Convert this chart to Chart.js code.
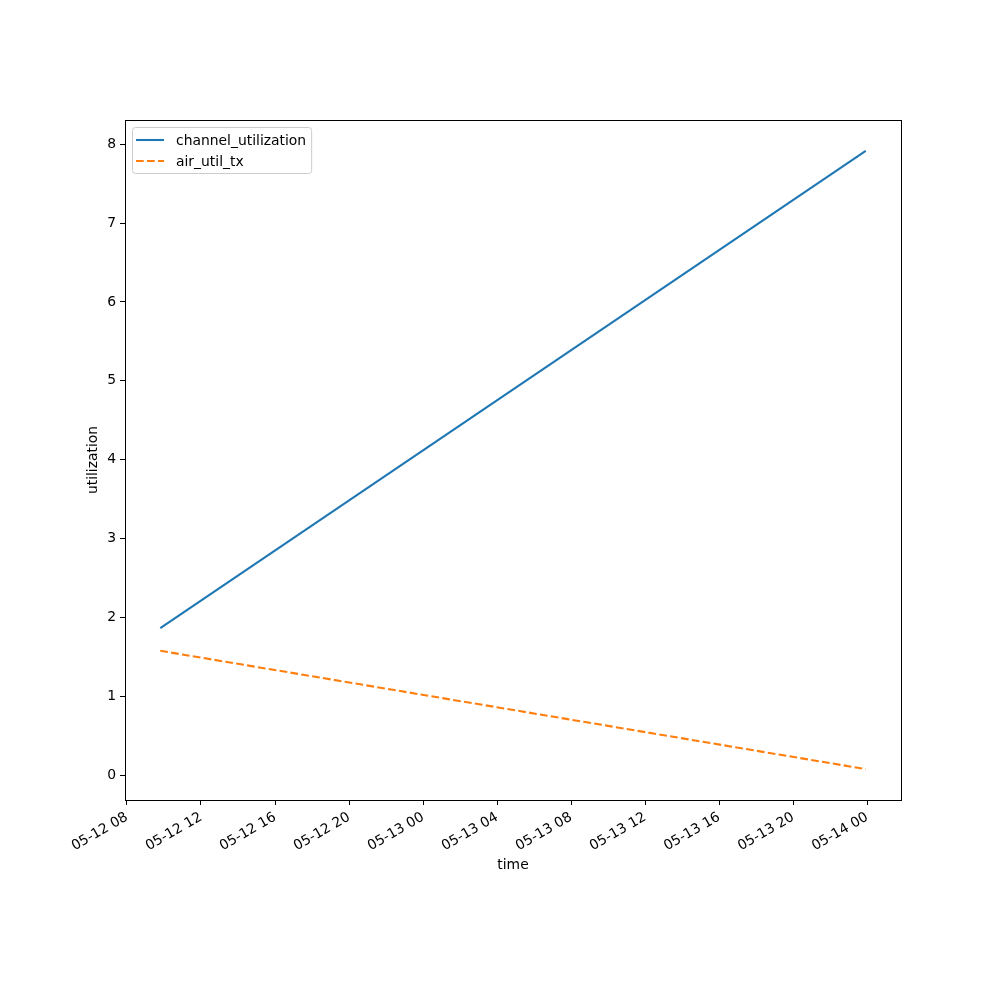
<!DOCTYPE html>
<html>
<head>
<meta charset="utf-8">
<script src="https://cdn.jsdelivr.net/npm/chart.js@4/dist/chart.umd.min.js"></script>
<style>
  html, body { margin: 0; padding: 0; background: #fff; }
  #wrap { width: 1000px; height: 1000px; }
</style>
</head>
<body>
<div id="wrap"><canvas id="grafica" width="1000" height="1000"></canvas></div>
<script>
// horas desde 05-12 00:00
const tiempos = [9.8, 47.92];
const channelUtil = [1.864, 7.915];
const airUtilTx = [1.576, 0.076];
const xTicks = [8, 12, 16, 20, 24, 28, 32, 36, 40, 44, 48];
const yTicks = [0, 1, 2, 3, 4, 5, 6, 7, 8];

const FUENTE = 'DejaVu Sans';
const TAM = 13.9;

function etiquetaHora(h) {
    const dia = 12 + Math.floor(h / 24);
    const hora = h % 24;
    return '05-' + String(dia).padStart(2, '0') + ' ' + String(hora).padStart(2, '0');
}

// margenes tipo matplotlib (5%)
const xMin = Math.min(...tiempos), xMax = Math.max(...tiempos);
const xPad = (xMax - xMin) * 0.05;
const todosY = channelUtil.concat(airUtilTx);
const yMin = Math.min(...todosY), yMax = Math.max(...todosY);
const yPad = (yMax - yMin) * 0.05;

// marco completo + leyenda dentro del area
const marcoYLeyenda = {
    id: 'marcoYLeyenda',
    afterDatasetsDraw(chart) {
        const { ctx, chartArea: a } = chart;
        ctx.save();
        ctx.strokeStyle = '#000';
        ctx.lineWidth = 1;
        ctx.strokeRect(Math.round(a.left) + 0.5, Math.round(a.top) + 0.5,
            Math.round(a.right - a.left), Math.round(a.bottom - a.top));

        // leyenda
        ctx.font = TAM + 'px "' + FUENTE + '"';
        const sets = chart.data.datasets;
        const anchoTexto = Math.max(...sets.map(d => ctx.measureText(d.label).width));
        const bx = a.left + 7, by = a.top + 7;
        const bw = 44 + anchoTexto + 5, bh = 46;
        ctx.beginPath();
        ctx.roundRect(bx + 0.5, by + 0.5, bw, bh, 3);
        ctx.fillStyle = 'rgba(255,255,255,0.8)';
        ctx.fill();
        ctx.strokeStyle = '#cccccc';
        ctx.stroke();
        sets.forEach((d, i) => {
            const y = by + 13 + i * 21;
            ctx.beginPath();
            ctx.strokeStyle = d.borderColor;
            ctx.lineWidth = d.borderWidth;
            ctx.setLineDash(d.borderDash || []);
            ctx.moveTo(bx + 4, y);
            ctx.lineTo(bx + 32, y);
            ctx.stroke();
            ctx.setLineDash([]);
            ctx.fillStyle = '#000';
            ctx.textBaseline = 'middle';
            ctx.fillText(d.label, bx + 44, y + 1);
        });
        ctx.restore();
    }
};

const ctx = document.getElementById('grafica').getContext('2d');
new Chart(ctx, {
    type: 'line',
    data: {
        datasets: [{
            label: 'channel_utilization',
            data: tiempos.map((t, i) => ({ x: t, y: channelUtil[i] })),
            borderColor: '#1f77b4',
            borderWidth: 2.1,
            pointRadius: 0,
            fill: false,
            tension: 0
        }, {
            label: 'air_util_tx',
            data: tiempos.map((t, i) => ({ x: t, y: airUtilTx[i] })),
            borderColor: '#ff7f0e',
            borderWidth: 2.1,
            borderDash: [7.7, 3.3],
            pointRadius: 0,
            fill: false,
            tension: 0
        }]
    },
    options: {
        responsive: false,
        animation: false,
        devicePixelRatio: 1,
        layout: { padding: { left: 80, right: 99, top: 120, bottom: 100 } },
        plugins: {
            legend: { display: false },
            tooltip: { enabled: false }
        },
        scales: {
            x: {
                type: 'linear',
                min: xMin - xPad,
                max: xMax + xPad,
                afterBuildTicks: s => { s.ticks = xTicks.map(v => ({ value: v })); },
                afterFit: s => { s.height = 100; },
                grid: { display: true, drawOnChartArea: false, drawTicks: true, tickLength: 5, color: '#000' },
                border: { display: true, color: '#000' },
                ticks: {
                    color: '#000',
                    font: { family: FUENTE, size: TAM },
                    maxRotation: 30,
                    minRotation: 30,
                    autoSkip: false,
                    padding: 4,
                    callback: v => etiquetaHora(v)
                },
                title: {
                    display: true,
                    text: 'time',
                    color: '#000',
                    font: { family: FUENTE, size: TAM },
                    padding: { top: 0, bottom: 26 }
                }
            },
            y: {
                type: 'linear',
                min: yMin - yPad,
                max: yMax + yPad,
                afterBuildTicks: s => { s.ticks = yTicks.map(v => ({ value: v })); },
                afterFit: s => { s.width = 45; },
                grid: { display: true, drawOnChartArea: false, drawTicks: true, tickLength: 5, color: '#000' },
                border: { display: true, color: '#000' },
                ticks: {
                    color: '#000',
                    font: { family: FUENTE, size: TAM },
                    padding: 4
                },
                title: {
                    display: true,
                    text: 'utilization',
                    color: '#000',
                    font: { family: FUENTE, size: TAM },
                    padding: { top: 5, bottom: 0 }
                }
            }
        }
    },
    plugins: [marcoYLeyenda]
});
</script>
</body>
</html>
